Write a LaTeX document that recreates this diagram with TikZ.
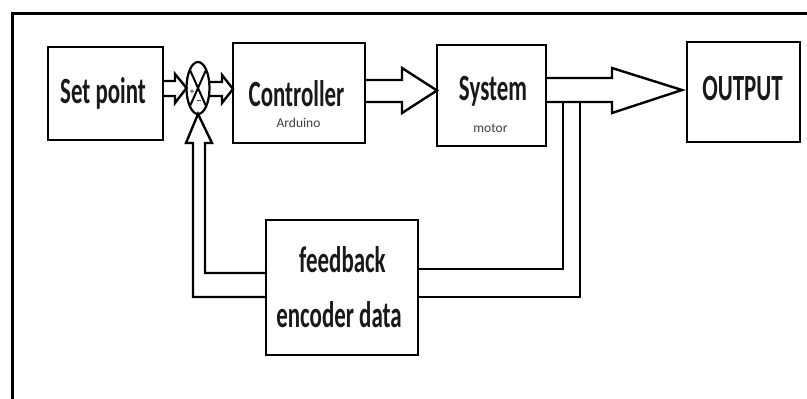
\documentclass[tikz,border=0pt]{standalone}
\usepackage{fontspec}
\setmainfont{Carlito}
\usetikzlibrary{shapes.geometric}
% condensed lettering used for the block titles
\newcommand{\narrowtext}[1]{\scalebox{0.62}[1]{#1}}
\begin{document}
\begin{tikzpicture}[x=1pt,y=-1pt,
  block/.style={draw=black,line width=2.8pt,rectangle,inner sep=0pt,outer sep=0pt},
  junction/.style={draw=black,line width=2.2pt,ellipse,inner sep=0pt,outer sep=0pt},
  hollow/.style={draw=black,line width=2.4pt,line join=miter},
  bigtxt/.style={inner sep=0pt,anchor=base,text=black!90,font=\fontsize{37}{40}\selectfont\bfseries},
  smalltxt/.style={inner sep=0pt,anchor=base,text=black!75,font=\fontsize{13.5}{15}\selectfont},
  frame/.style={draw=black,line width=3pt}
]
\useasboundingbox (0,0) rectangle (807,399);
\fill[white] (0,0) rectangle (807,399);

% outer frame (top and left edges)
\draw[frame] (12,399) -- (12,13) -- (807,13);

% blocks
\node[block,minimum width=115pt,minimum height=93pt]  (setpoint)   at (105.5,93.5) {};
\node[block,minimum width=132pt,minimum height=100pt] (controller) at (299,93) {};
\node[block,minimum width=109pt,minimum height=101pt] (system)     at (491.5,95.5) {};
\node[block,minimum width=113pt,minimum height=100pt] (output)     at (743.5,92) {};
\node[block,minimum width=152pt,minimum height=135pt] (feedback)   at (342,287.5) {};

% summing junction
\node[junction,minimum width=23pt,minimum height=52pt] (sum) at (198,88) {};
\draw[line width=2pt] (sum.north west) -- (sum.south east);
\draw[line width=2pt] (sum.north east) -- (sum.south west);
\node[inner sep=0pt,font=\fontsize{9}{9}\selectfont] (plus) at (192,92) {+};
\node[inner sep=0pt,font=\fontsize{12}{12}\selectfont] (minus) at (199,103) {--};

% labels
\node[bigtxt] (setpoint-label)   at (103,103)   {\narrowtext{Set point}};
\node[bigtxt] (controller-label) at (296.5,106) {\narrowtext{Controller}};
\node[smalltxt] (arduino)        at (298.5,127) {Arduino};
\node[bigtxt] (system-label)     at (493,100)   {\narrowtext{System}};
\node[smalltxt] (motor)          at (490.5,132) {motor};
\node[bigtxt] (output-label)     at (742.5,100) {\narrowtext{OUTPUT}};
\node[bigtxt] (feedback-label)   at (342.5,272) {\narrowtext{feedback}};
\node[bigtxt] (encoder-label)    at (339,327)   {\narrowtext{encoder data}};

% hollow block arrows
\draw[hollow] (setpoint.east |- 0,81) -- (175,81) -- (175,74) -- (sum.west)
              -- (175,103) -- (175,96) -- (setpoint.east |- 0,96);
\draw[hollow] (210,82) -- (222,82) -- (222,75) -- (controller.west |- 0,89)
              -- (222,103) -- (222,96) -- (210,96);
\draw[hollow] (controller.east |- 0,80) -- (402,80) -- (402,68) -- (system.west |- 0,90.5)
              -- (402,113) -- (402,102) -- (controller.east |- 0,102);
\draw[hollow] (system.east |- 0,78) -- (612,78) -- (612,68) -- (682,90)
              -- (612,113) -- (612,102) -- (system.east |- 0,102);

% feedback path (double-line arrow back into the junction)
\draw[hollow] (563,102) -- (563,269) -- (feedback.east |- 0,269);
\draw[hollow] (580,102) -- (580,297) -- (feedback.east |- 0,297);
\draw[hollow] (feedback.west |- 0,273) -- (205,273) -- (205,143) -- (212,143)
              -- (sum.south) -- (186,143) -- (193,143) -- (193,297) -- (feedback.west |- 0,297);
\end{tikzpicture}
\end{document}
